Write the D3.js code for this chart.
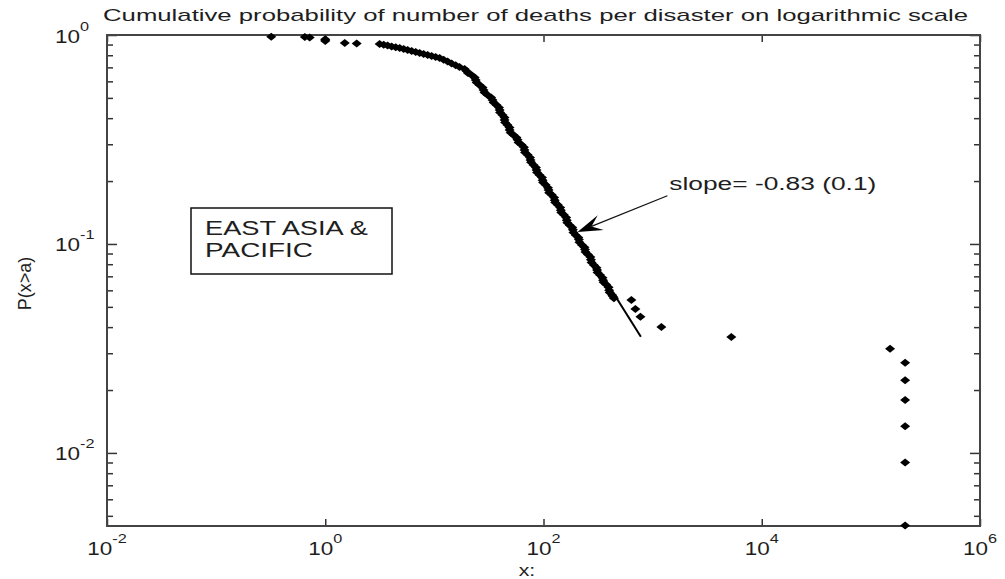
<!DOCTYPE html>
<html>
<head>
<meta charset="utf-8">
<script src="https://cdn.jsdelivr.net/npm/d3@7"></script>
<style>
  body { margin: 0; background: #fff; }
  svg { display: block; }
  text { font-family: "Liberation Sans", Arial, Helvetica, sans-serif; fill: #1e1e1e; }
</style>
</head>
<body>
<svg id="chart" width="1005" height="579"></svg>
<script>
// Deaths per disaster (x) and empirical P(X > x), East Asia & Pacific
const deaths = [
  0.32, 0.65, 0.72, 1.0, 1.0, 1.0, 1.51, 1.94,
  3.15, 3.43, 3.73, 4.06, 4.42, 4.81, 5.23, 5.69, 6.19, 6.74,
  7.33, 7.97, 8.68, 9.44, 10.27, 11.17, 12.15, 13.22, 14.39, 15.65,
  17.0, 18.9, 19.7, 20.3, 21.9, 23.4, 23.9, 24.4, 25.9, 27.6,
  28.2, 28.8, 30.7, 33.1, 34.1, 34.9, 37.1, 39.1, 39.6, 40.0,
  42.1, 43.9, 44.0, 44.5, 46.8, 48.8, 48.9, 50.0, 53.1, 56.5,
  57.8, 59.1, 62.9, 66.2, 67.0, 67.8, 71.4, 75.2, 76.0, 76.9,
  81.0, 85.3, 86.3, 87.3, 91.9, 96.9, 98.1, 99.2, 104.5, 110.0,
  111.3, 112.7, 118.9, 125.2, 126.6, 128.1, 134.9, 142.2, 144.0, 145.6,
  153.4, 161.5, 163.4, 165.3, 174.1, 183.5, 185.8, 188.0, 198.0, 208.4,
  210.9, 213.5, 225.1, 237.1, 239.9, 242.6, 255.5, 269.0, 272.2, 275.6,
  290.5, 305.8, 309.5, 313.1, 329.8, 347.2, 351.3, 355.6, 374.9, 394.7,
  399.4, 404.0, 425.5, 433.6, 441.8,
  639, 695, 773, 1202, 5260, 150000,
  206000, 206000, 206000, 206000, 206000, 206000
];
const probExceed = [
  0.982, 0.978, 0.973, 0.955, 0.946, 0.937, 0.915, 0.911,
  0.906, 0.898, 0.890, 0.882, 0.874, 0.867, 0.857, 0.848, 0.838, 0.829,
  0.820, 0.811, 0.802, 0.793, 0.785, 0.776, 0.761, 0.746, 0.731, 0.717,
  0.703, 0.688, 0.673, 0.658, 0.644, 0.626, 0.609, 0.592, 0.576, 0.561,
  0.546, 0.531, 0.516, 0.502, 0.489, 0.475, 0.462, 0.450, 0.438, 0.426,
  0.414, 0.403, 0.392, 0.381, 0.371, 0.361, 0.351, 0.341, 0.332, 0.323,
  0.315, 0.306, 0.298, 0.290, 0.282, 0.274, 0.267, 0.259, 0.252, 0.246,
  0.239, 0.232, 0.226, 0.220, 0.214, 0.208, 0.202, 0.197, 0.192, 0.186,
  0.181, 0.176, 0.172, 0.167, 0.162, 0.158, 0.154, 0.1495, 0.145, 0.1415,
  0.138, 0.134, 0.130, 0.1265, 0.123, 0.120, 0.117, 0.1135, 0.110, 0.1075,
  0.105, 0.102, 0.099, 0.0965, 0.094, 0.0915, 0.089, 0.0865, 0.084, 0.0815,
  0.079, 0.077, 0.075, 0.073, 0.071, 0.069, 0.067, 0.0655, 0.064, 0.062,
  0.060, 0.0585, 0.057, 0.056, 0.055,
  0.0540, 0.0489, 0.0448, 0.0401, 0.0359, 0.0315,
  0.0270, 0.0223, 0.0179, 0.0134, 0.0090, 0.0045
];

// Axis ticks (powers of ten)
const xTickExponents = [-2, 0, 2, 4, 6];
const yTickExponents = [0, -1, -2];

// Power-law fit of the tail
const fitSlope = -0.83;
const fitSlopeErr = 0.1;
const fitEnd = [780, 0.036];
const fitStartX = 90;

// Annotation anchors (data units)
const slopeLabelAt = [1423, 0.1813];
const arrowTail = [1365, 0.170];
const arrowTip = [205, 0.1141];

const titleText = "Cumulative probability of number of deaths per disaster on logarithmic scale";
const regionLabel = ["EAST ASIA &", "PACIFIC"];
const xLabelText = "x:";
const yLabelText = "P(x>a)";

(function draw() {
  const svg = d3.select("#chart");
  const plotL = 107, plotR = 980, plotT = 35, plotB = 526;

  const x = d3.scaleLog().domain([1e-2, 1e6]).range([plotL, plotR]);
  const y = d3.scaleLog().domain([0.00447, 1]).range([plotB, plotT]);

  const xMajor = xTickExponents.map(e => Math.pow(10, e));
  const yMajor = yTickExponents.map(e => Math.pow(10, e));
  const yMinor = [];
  [-3, -2, -1].forEach(e => {
    for (let k = 2; k <= 9; k++) {
      const v = k * Math.pow(10, e);
      if (v >= y.domain()[0] && v <= y.domain()[1]) yMinor.push(v);
    }
  });

  const axisColor = "#333";
  function styleAxis(g) {
    g.select(".domain").remove();
    g.selectAll(".tick line").attr("stroke", axisColor).attr("stroke-width", 1.5);
  }

  // x ticks (bottom and top, inward)
  svg.append("g").attr("transform", `translate(0,${plotB})`)
    .call(d3.axisBottom(x).tickValues(xMajor).tickSize(-7).tickFormat("")).call(styleAxis);
  svg.append("g").attr("transform", `translate(0,${plotT})`)
    .call(d3.axisTop(x).tickValues(xMajor).tickSize(-7).tickFormat("")).call(styleAxis);

  // y ticks (left and right, inward; major + minor)
  svg.append("g").attr("transform", `translate(${plotL},0)`)
    .call(d3.axisLeft(y).tickValues(yMajor).tickSize(-10).tickFormat("")).call(styleAxis);
  svg.append("g").attr("transform", `translate(${plotL},0)`)
    .call(d3.axisLeft(y).tickValues(yMinor).tickSize(-6).tickFormat("")).call(styleAxis);
  svg.append("g").attr("transform", `translate(${plotR},0)`)
    .call(d3.axisRight(y).tickValues(yMajor).tickSize(-10).tickFormat("")).call(styleAxis);
  svg.append("g").attr("transform", `translate(${plotR},0)`)
    .call(d3.axisRight(y).tickValues(yMinor).tickSize(-6).tickFormat("")).call(styleAxis);

  // axes box
  svg.append("rect")
    .attr("x", plotL).attr("y", plotT)
    .attr("width", plotR - plotL).attr("height", plotB - plotT)
    .attr("fill", "none").attr("stroke", "#444").attr("stroke-width", 2);

  // "10^n" tick labels
  function powLabel(tx, ty, exp, anchor) {
    const t = svg.append("text")
      .attr("transform", `translate(${tx},${ty}) scale(1.25,1)`)
      .attr("text-anchor", anchor)
      .style("font-size", "18px");
    t.append("tspan").text("10");
    t.append("tspan").attr("dy", -12).style("font-size", "13px").text(String(exp));
  }
  xTickExponents.forEach(e => powLabel(x(Math.pow(10, e)), plotB + 29, e, "middle"));
  yTickExponents.forEach(e => powLabel(55, y(Math.pow(10, e)) + 7.5, e, "start"));

  // title
  svg.append("text")
    .attr("x", 103).attr("y", 21)
    .attr("textLength", 865).attr("lengthAdjust", "spacingAndGlyphs")
    .style("font-size", "17px")
    .text(titleText);

  // axis labels
  svg.append("text")
    .attr("transform", `translate(31,${(plotT + plotB) / 2 + 3}) rotate(-90)`)
    .attr("text-anchor", "middle")
    .style("font-size", "18px")
    .text(yLabelText);
  svg.append("text")
    .attr("transform", `translate(527,576) scale(1.25,1)`)
    .attr("text-anchor", "middle")
    .style("font-size", "17px")
    .text(xLabelText);

  // region label box
  svg.append("rect")
    .attr("x", 191).attr("y", 208).attr("width", 201).attr("height", 66)
    .attr("fill", "#fff").attr("stroke", "#111").attr("stroke-width", 1.5);
  svg.append("text").attr("x", 205).attr("y", 235)
    .attr("textLength", 163).attr("lengthAdjust", "spacingAndGlyphs")
    .style("font-size", "20px").text(regionLabel[0]);
  svg.append("text").attr("x", 205).attr("y", 257)
    .attr("textLength", 108).attr("lengthAdjust", "spacingAndGlyphs")
    .style("font-size", "20px").text(regionLabel[1]);

  // fitted power law
  const fitX = [fitStartX, fitEnd[0]];
  const fitP = xv => fitEnd[1] * Math.pow(xv / fitEnd[0], fitSlope);
  svg.append("path")
    .datum(fitX)
    .attr("d", d3.line().x(d => x(d)).y(d => y(fitP(d))))
    .attr("fill", "none").attr("stroke", "#000").attr("stroke-width", 2);

  // data markers (diamonds)
  const diamond = "M-5,0L0,-4L5,0L0,4Z";
  svg.append("g").selectAll("path")
    .data(deaths.map((d, i) => [d, probExceed[i]]))
    .join("path")
    .attr("d", diamond)
    .attr("transform", d => `translate(${x(d[0])},${y(d[1])})`)
    .attr("fill", "#000");

  // slope annotation with arrow
  svg.append("text")
    .attr("x", x(slopeLabelAt[0])).attr("y", y(slopeLabelAt[1]))
    .attr("textLength", 207).attr("lengthAdjust", "spacingAndGlyphs")
    .style("font-size", "18px")
    .text(`slope= ${fitSlope} (${fitSlopeErr})`);

  const tx0 = x(arrowTail[0]), ty0 = y(arrowTail[1]);
  const tx1 = x(arrowTip[0]), ty1 = y(arrowTip[1]);
  const len = Math.hypot(tx1 - tx0, ty1 - ty0);
  const ux = (tx1 - tx0) / len, uy = (ty1 - ty0) / len;
  const nx = -uy, ny = ux;
  const headLen = 25, headHalf = 8;
  const bx = tx1 - ux * headLen, by = ty1 - uy * headLen;
  const kx = tx1 - ux * headLen * 0.6, ky = ty1 - uy * headLen * 0.6;
  svg.append("line")
    .attr("x1", tx0).attr("y1", ty0).attr("x2", kx).attr("y2", ky)
    .attr("stroke", "#111").attr("stroke-width", 1.2);
  svg.append("path")
    .attr("d", `M${tx1},${ty1}L${bx + nx * headHalf},${by + ny * headHalf}L${kx},${ky}L${bx - nx * headHalf},${by - ny * headHalf}Z`)
    .attr("fill", "#000");
})();
</script>
</body>
</html>
